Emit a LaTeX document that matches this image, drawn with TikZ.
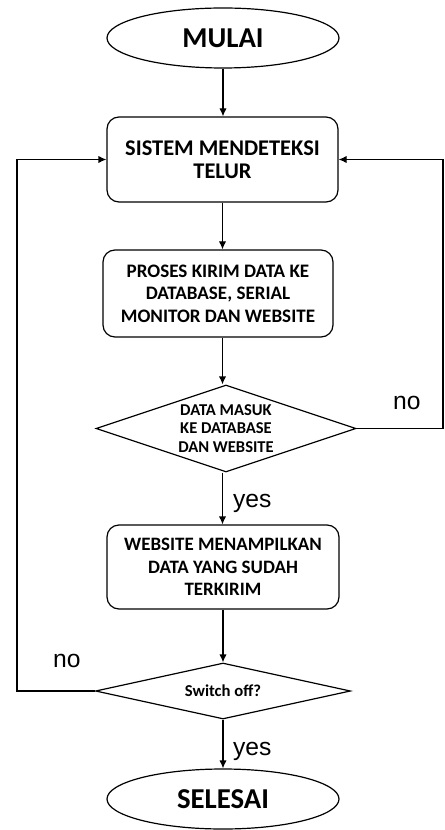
\documentclass[tikz,border=0pt]{standalone}
\usepackage{fontspec}
\setmainfont{Carlito}
\newfontfamily\labelfont{Liberation Sans}
\usetikzlibrary{shapes.geometric,arrows.meta}

\begin{document}
\begin{tikzpicture}[x=0.75pt,y=-0.75pt,line width=0.9pt,
  terminal/.style={draw,ellipse,inner sep=0pt,minimum width=174pt,minimum height=45pt,font=\bfseries\fontsize{21.6}{24}\selectfont},
  proc/.style={draw,rectangle,rounded corners=9pt,align=center,inner sep=0pt},
  decide/.style={draw,diamond,align=center,inner sep=0pt},
  lbl/.style={font=\labelfont\fontsize{18.5}{20}\selectfont},
  arr/.style={-{Latex[length=6pt,width=5.5pt]}}]

\useasboundingbox (0,0) rectangle (445,830);

\node[terminal] (mulai) at (223,38) {MULAI};
\node[proc,minimum width=173.25pt,minimum height=63.75pt,font=\bfseries\fontsize{16.8}{17.5}\selectfont] (sistem) at (222.5,159.5) {SISTEM MENDETEKSI\\TELUR};
\node[proc,minimum width=172.5pt,minimum height=65.25pt,font=\bfseries\fontsize{14.3}{17}\selectfont] (proses) at (218,293.5) {PROSES KIRIM DATA KE\\DATABASE, SERIAL\\MONITOR DAN WEBSITE};
\node[decide,aspect=3,minimum width=195pt,minimum height=65.25pt,font=\bfseries\fontsize{12.4}{14}\selectfont] (masuk) at (226,428.5) {DATA MASUK\\KE DATABASE\\DAN WEBSITE};
\node[proc,minimum width=174pt,minimum height=63pt,font=\bfseries\fontsize{14.2}{17}\selectfont] (tampil) at (223,567) {WEBSITE MENAMPILKAN\\DATA YANG SUDAH\\TERKIRIM};
\node[decide,aspect=4.5,minimum width=191.25pt,minimum height=42pt,font=\bfseries\fontsize{12.5}{13}\selectfont] (switch) at (223,691) {Switch off?};
\node[terminal] (selesai) at (223,799) {SELESAI};

\coordinate (kanan) at (443,159.5);
\coordinate (kiri) at (17,159.5);

\draw[arr] (mulai.south) -- (mulai.south |- sistem.north);
\draw[arr] (sistem.south) -- (sistem.south |- proses.north);
\draw[arr] (sistem.south |- proses.south) -- (masuk.north -| sistem.south);
\draw[arr] (masuk.east) -| (kanan) -- (sistem.east);
\draw[arr] (masuk.south -| sistem.south) -- (sistem.south |- tampil.north);
\draw[arr] (tampil.south) -- (switch.north);
\draw[arr] (switch.west) -| (kiri) -- (sistem.west);
\draw[arr] (switch.south) -- (selesai.north);

\node[lbl,anchor=base west] (tidak1) at (388,409) {no};
\node[lbl,anchor=base west] (ya1) at (228,507) {yes};
\node[lbl,anchor=base west] (tidak2) at (48,667) {no};
\node[lbl,anchor=base west] (ya2) at (228,755) {yes};

\end{tikzpicture}
\end{document}
